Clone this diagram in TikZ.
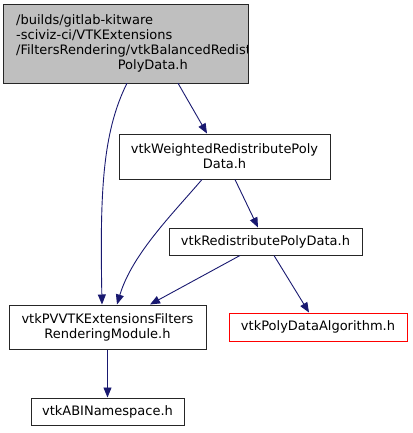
\documentclass[tikz,border=0pt]{standalone}
\usepackage{fontspec}
\setmainfont{DejaVu Sans}
\usepackage{tikz}
\usetikzlibrary{positioning}
\usetikzlibrary{arrows.meta}

\definecolor{edgeblue}{HTML}{191970}
\definecolor{headgrey}{HTML}{BFBFBF}
\definecolor{missred}{HTML}{FF0000}

\tikzset{
    filefont/.style={font=\fontsize{13}{15}\selectfont},
    filebox/.style={draw=black!85, line width=1pt, inner sep=2pt, align=center, filefont},
    missbox/.style={filebox, draw=missred},
    incl/.style={draw=edgeblue, line width=0.9pt, -{Triangle[length=10pt,width=8pt]}}
}

\begin{document}
\begin{tikzpicture}[x=1pt, y=-1pt]
    \useasboundingbox (0,0) rectangle (412,433);

    % head file: text runs past the right edge and is cut by the box
    \node [fill=headgrey, inner sep=0pt, minimum width=244pt, minimum height=78pt] (head) at (126,44) {};
    \begin{scope}
        \clip (head.south west) rectangle (head.north east);
        \node [filefont, anchor=west, inner sep=0pt] (headtext) at (16,44)
            {\begin{tabular}{@{}l@{}}/builds/gitlab-kitware\\-sciviz-ci/VTKExtensions\\/FiltersRendering/vtkBalancedRedistribute\\\multicolumn{1}{@{}c@{}}{PolyData.h}\end{tabular}};
    \end{scope}
    \draw [black!85, line width=1pt] (head.south west) rectangle (head.north east);

    \node [filebox, minimum width=211pt, minimum height=45pt] (weighted) at (224.5,156.5)
        {vtkWeightedRedistributePoly\\Data.h};
    \node [filebox, minimum width=193pt, minimum height=27pt] (redist) at (265.5,241.5)
        {vtkRedistributePolyData.h};
    \node [filebox, minimum width=197pt, minimum height=44pt] (module) at (107.5,327)
        {vtkPVVTKExtensionsFilters\\RenderingModule.h};
    \node [missbox, minimum width=178pt, minimum height=28pt] (algo) at (318,327)
        {vtkPolyDataAlgorithm.h};
    \node [filebox, minimum width=153pt, minimum height=27pt] (abi) at (107.5,411.5)
        {vtkABINamespace.h};

    % includes
    \draw [incl] ([xshift=1pt]head.south) .. controls +(-25,50) and +(-2,-110) .. ([xshift=-5.5pt]module.north);
    \draw [incl] ([xshift=52pt]head.south) -- ([xshift=-17.5pt]weighted.north);
    \draw [incl] ([xshift=-22.5pt]weighted.south) .. controls +(-30,35) and +(15,-50) .. ([xshift=9.5pt]module.north);
    \draw [incl] ([xshift=10.5pt]weighted.south) -- ([xshift=-7.5pt]redist.north);
    \draw [incl] ([xshift=-25.5pt]redist.south) -- ([xshift=42.5pt]module.north);
    \draw [incl] ([xshift=8.5pt]redist.south) -- ([xshift=-9pt]algo.north);
    \draw [incl] (module.south) -- (abi.north);
\end{tikzpicture}
\end{document}
